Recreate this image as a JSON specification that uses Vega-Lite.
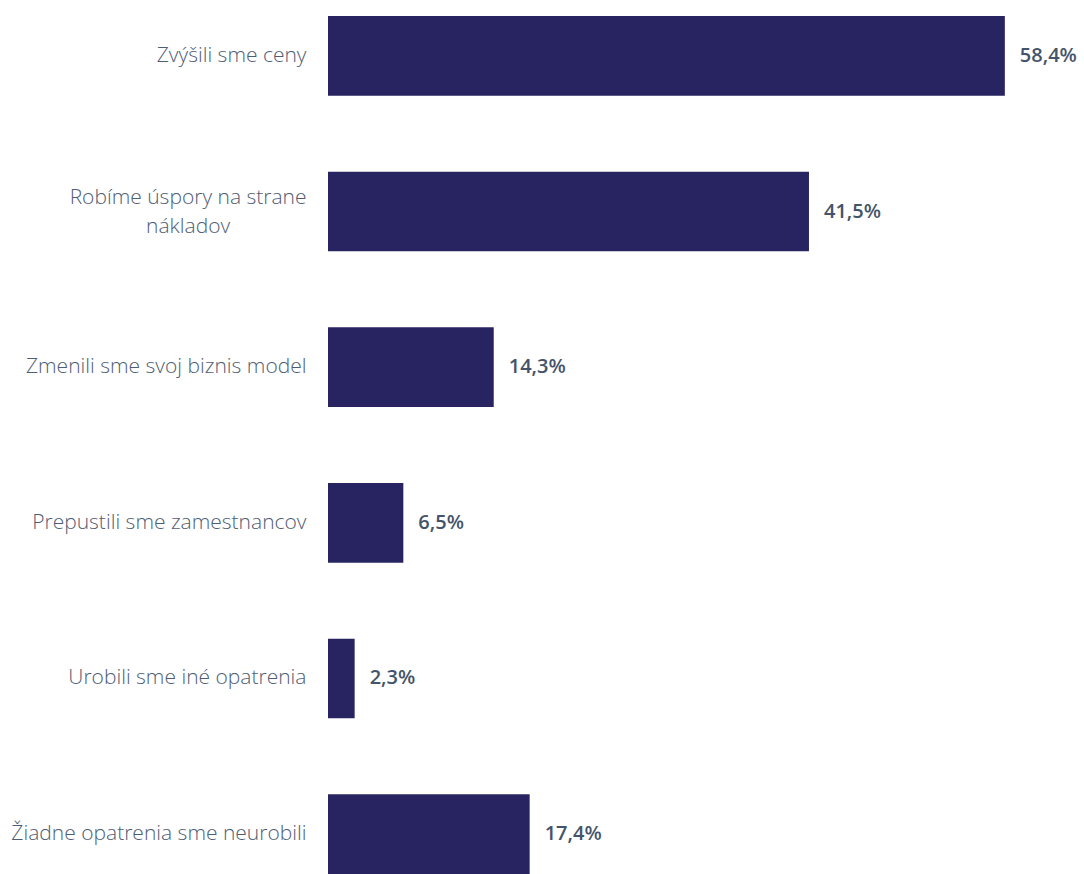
{
  "$schema": "https://vega.github.io/schema/vega-lite/v6.json",
  "width": 756,
  "height": 858,
  "autosize": {"type": "none"},
  "padding": {"left": 328, "top": 16, "right": 0, "bottom": 0},
  "background": "white",
  "config": {"view": {"stroke": null}},
  "data": {
    "values": [
      {"k": "Zvýšili sme ceny", "v": 58.4},
      {"k": "Robíme úspory na strane nákladov", "v": 41.5},
      {"k": "Zmenili sme svoj biznis model", "v": 14.3},
      {"k": "Prepustili sme zamestnancov", "v": 6.5},
      {"k": "Urobili sme iné opatrenia", "v": 2.3},
      {"k": "Žiadne opatrenia sme neurobili", "v": 17.4}
    ]
  },
  "transform": [
    {"calculate": "replace(format(datum.v, '.1f'), '.', ',') + '%'", "as": "lbl"}
  ],
  "encoding": {
    "y": {
      "field": "k",
      "type": "nominal",
      "sort": null,
      "scale": {"paddingInner": 0.488, "paddingOuter": 0},
      "axis": {
        "title": null,
        "domain": false,
        "ticks": false,
        "labelPadding": 22,
        "labelFont": "Open Sans",
        "labelFontWeight": 300,
        "labelFontSize": 21,
        "labelColor": "#4F5D73",
        "labelLimit": 400,
        "labelLineHeight": 29,
        "labelOffset": {"condition": {"test": "datum.value == 'Robíme úspory na strane nákladov'", "value": -14}, "value": 0},
        "labelExpr": "datum.value == 'Robíme úspory na strane nákladov' ? ['Robíme úspory na strane', 'nákladov\u00a0\u00a0\u00a0\u00a0\u00a0\u00a0\u00a0\u00a0\u00a0\u00a0\u00a0\u00a0\u00a0\u00a0\u200b'] : datum.value"
      }
    },
    "x": {
      "field": "v",
      "type": "quantitative",
      "scale": {"domain": [0, 65.23], "nice": false, "zero": true},
      "axis": null
    }
  },
  "layer": [
    {"mark": {"type": "bar", "color": "#282462"}},
    {
      "mark": {"type": "text", "align": "left", "dx": 15, "font": "Open Sans", "fontSize": 20, "fontWeight": 600, "color": "#44546A"},
      "encoding": {"text": {"field": "lbl", "type": "nominal"}}
    }
  ]
}
